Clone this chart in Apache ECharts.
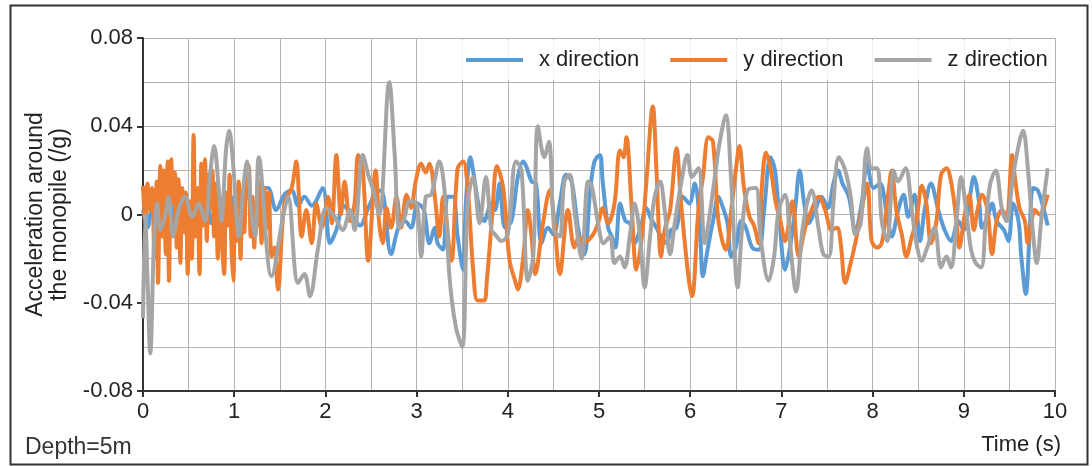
<!DOCTYPE html>
<html>
<head>
<meta charset="utf-8">
<script src="https://cdn.jsdelivr.net/npm/echarts@6/dist/echarts.min.js"></script>
<style>
html,body{margin:0;padding:0;background:#fff;}
#chart{width:1092px;height:466px;}
</style>
</head>
<body>
<div id="chart"></div>
<script>
// ---- data (time in s, acceleration in g) ----
const seriesNames = ['x direction', 'y direction', 'z direction'];
const xTicks = [0,1,2,3,4,5,6,7,8,9,10];
const yTicks = [-0.08,-0.04,0,0.04,0.08];

const xT = [0,0.05,0.1,0.15,0.2,0.25,0.3,0.35,0.4,0.45,0.5,0.55,0.6,0.65,0.7,0.75,0.8,0.85,0.9,0.95,1.0,1.05,1.1,1.15,1.2,1.25,1.3,
 1.37,1.46,1.55,1.63,1.7,1.77,1.85,1.97,2.05,2.12,2.2,2.3,2.38,2.47,2.54,
 2.61,2.72,2.8,2.87,2.94,3.01,3.08,3.14,3.2,3.23,3.29,3.34,3.4,3.45,3.51,3.54,3.59,3.63,3.69,3.74,3.82,
 3.86,3.91,3.97,4.04,4.11,4.17,4.21,4.26,4.31,4.37,4.44,4.5,4.57,4.64,4.7,4.77,4.84,4.9,4.95,5.01,5.04,5.1,
 5.14,5.18,5.23,5.29,5.34,5.39,5.45,5.52,5.57,5.63,5.68,5.74,5.79,5.85,5.92,5.99,6.05,6.1,6.14,6.19,6.25,6.31,6.36,6.41,
 6.45,6.5,6.56,6.61,6.68,6.75,6.81,6.88,6.93,6.98,7.04,7.09,7.15,7.2,7.25,7.3,7.37,7.44,7.51,7.57,7.62,
 7.67,7.74,7.81,7.88,7.94,8.01,8.08,8.16,8.21,8.28,8.34,8.39,8.46,8.52,8.57,8.64,8.72,8.79,8.86,8.94,
 9.0,9.06,9.11,9.17,9.2,9.26,9.31,9.36,9.44,9.49,9.54,9.6,9.63,9.68,9.72,9.76,9.81,9.86,9.92];
const xV = [0.002,-0.006,0.004,-0.008,0.005,-0.004,0.006,-0.006,0.003,-0.005,0.004,-0.007,0.005,-0.003,0.006,-0.004,0.004,-0.006,0.005,0.001,0.008,-0.004,0.003,0.010,0.002,0.006,0.012,
 0.012,0.002,0.009,0.011,0.004,0.008,0.004,0.012,-0.013,-0.007,0.004,-0.001,-0.005,0.003,0.009,
 0.011,-0.018,-0.006,-0.003,-0.006,0.005,0.002,-0.013,-0.006,-0.013,-0.016,0.008,0.008,-0.010,-0.025,0.005,0.026,0.017,0.002,-0.003,0.005,
 0.002,0.014,-0.006,-0.003,0.017,0.024,0.021,0.015,0.014,-0.013,-0.006,-0.009,0.005,0.018,0.015,-0.006,-0.018,0.009,0.024,0.027,0.015,-0.006,
 -0.010,-0.015,0.005,-0.003,-0.004,-0.013,-0.007,0.003,-0.002,-0.006,-0.010,-0.013,-0.007,-0.006,0.008,0.005,0.014,-0.001,-0.028,-0.016,-0.003,0.008,0.003,-0.004,
 -0.019,-0.015,-0.003,-0.006,-0.015,-0.016,0.002,0.026,0.020,-0.003,-0.025,-0.016,0.002,0.020,0.005,-0.004,0.002,0.008,0.003,0.014,0.020,
 0.014,0.008,-0.007,0.005,0.023,0.012,0.014,-0.001,-0.010,0.002,0.009,-0.001,0.009,-0.012,0.002,0.014,0.002,-0.007,-0.012,-0.003,
 -0.007,0.006,0.017,0.005,-0.006,-0.001,0.005,-0.003,-0.007,-0.012,0.005,-0.003,-0.019,-0.036,-0.010,0.012,0.011,0.005,-0.005];

const yT = [0,0.025,0.05,0.075,0.1,0.125,0.15,0.165,0.19,0.21,0.23,0.25,0.27,0.285,0.31,0.33,0.35,0.37,0.39,0.41,0.43,0.45,0.47,0.49,0.51,0.535,0.555,0.575,0.595,0.62,0.64,0.66,0.68,0.7,0.72,0.74,0.76,0.78,0.8,0.82,0.84,0.865,0.89,0.91,0.93,0.95,0.97,0.99,1.01,1.03,1.05,1.07,1.09,1.11,1.13,1.16,1.18,1.2,1.22,1.24,1.26,1.28,1.3,1.33,1.36,1.38,1.41,1.44,1.48,
 1.55,1.63,1.68,1.74,1.79,1.85,1.9,1.96,2.03,2.07,2.12,2.17,2.21,2.27,2.32,2.36,2.41,2.47,2.55,2.59,2.63,2.67,2.72,2.78,2.83,2.89,2.94,2.99,3.05,3.1,3.14,3.2,3.25,3.29,3.38,3.45,3.51,3.56,3.62,3.67,3.74,3.77,3.83,3.88,3.95,
 4.02,4.08,4.11,4.17,4.22,4.26,4.3,4.39,4.46,4.51,4.57,4.66,4.73,4.78,4.82,4.92,4.99,5.04,5.1,5.17,5.23,5.27,5.3,5.36,5.41,5.47,5.52,5.59,5.63,5.68,5.72,5.78,5.85,5.9,5.98,6.02,6.09,6.14,6.2,6.25,6.31,6.39,
 6.45,6.5,6.54,6.59,6.65,6.7,6.75,6.79,6.83,6.88,6.94,6.99,7.04,7.12,7.19,7.26,7.33,7.41,7.48,7.55,7.61,7.65,7.7,7.76,7.81,7.88,7.94,7.99,8.05,8.1,8.16,8.21,8.26,8.32,8.37,8.43,8.48,8.54,8.59,8.64,8.7,8.75,8.81,8.86,8.92,8.95,
 9.01,9.06,9.11,9.15,9.2,9.26,9.31,9.36,9.42,9.47,9.53,9.56,9.61,9.67,9.7,9.74,9.78,9.83,9.92];
const yV = [0.013,-0.005,0.014,0.002,0.012,-0.020,0.015,-0.031,0.022,-0.010,0.020,-0.018,0.024,-0.030,0.025,0.005,0.019,-0.015,0.016,-0.022,0.012,-0.008,0.010,-0.027,0.006,-0.020,0.036,-0.010,0.012,-0.027,0.023,-0.005,0.025,-0.012,0.018,0.003,0.020,-0.010,0.014,-0.020,0.008,-0.012,-0.027,0.010,-0.005,0.018,-0.015,-0.030,0.005,-0.012,0.015,-0.020,0.006,-0.008,0.012,0.022,-0.010,0.008,-0.015,0.005,-0.005,0.015,-0.013,0.012,-0.006,0.010,-0.019,-0.015,-0.034,
 0.005,0.012,0.024,-0.010,0.002,-0.013,0.005,-0.006,0.008,-0.004,0.027,0.000,0.015,-0.003,0.005,0.027,0.020,-0.021,0.020,-0.004,-0.013,0.003,-0.006,0.008,-0.006,0.009,0.003,0.015,0.023,0.019,0.023,0.008,-0.010,0.008,-0.021,0.021,0.024,0.012,-0.025,-0.039,-0.039,-0.030,0.000,0.022,0.012,
 -0.021,-0.030,-0.034,-0.019,0.002,-0.010,-0.027,-0.003,0.011,-0.003,-0.027,0.002,-0.015,-0.010,-0.013,-0.010,-0.004,0.003,-0.004,0.005,0.029,0.026,0.035,0.002,-0.025,-0.010,0.015,0.049,0.020,-0.019,-0.007,0.002,0.030,0.005,-0.028,-0.037,0.002,0.017,0.035,0.033,-0.003,-0.016,
 0.002,0.020,0.031,0.012,-0.001,-0.005,-0.013,0.015,0.028,0.021,0.005,-0.003,-0.012,0.006,-0.019,-0.006,0.002,0.008,0.002,-0.007,-0.006,-0.013,-0.031,-0.022,-0.013,0.002,0.014,-0.012,-0.015,-0.013,0.005,0.020,0.002,-0.009,-0.019,-0.010,-0.003,0.013,0.005,-0.013,-0.003,0.018,0.021,0.015,-0.003,-0.015,
 0.000,0.009,-0.007,0.002,0.009,0.002,-0.018,-0.003,0.002,-0.001,0.027,0.017,0.003,-0.003,-0.013,-0.004,0.002,0.000,0.009];

const zT = [0,0.025,0.05,0.08,0.12,0.155,0.19,0.24,0.28,0.33,0.39,0.46,0.54,0.61,0.68,0.74,0.78,0.83,0.86,0.91,0.945,0.99,1.05,1.1,1.14,1.19,1.23,1.27,
 1.41,1.54,1.59,1.7,1.77,1.83,1.92,2.01,2.1,2.19,2.27,2.32,2.41,2.47,2.53,2.59,2.7,2.76,2.81,2.87,2.92,3.0,3.05,3.1,3.16,3.25,3.31,3.36,3.43,3.5,3.56,3.62,3.69,3.76,3.82,
 3.86,3.93,4.0,4.09,4.15,4.22,4.28,4.33,4.4,4.45,4.51,4.57,4.62,4.68,4.73,4.81,4.88,4.92,4.99,5.05,5.12,5.17,5.23,5.28,5.34,5.39,5.45,5.5,5.56,5.61,5.67,5.72,5.78,5.83,5.9,5.97,6.02,6.09,6.16,6.21,6.27,6.32,6.39,
 6.45,6.52,6.57,6.63,6.72,6.77,6.86,6.92,6.97,7.04,7.1,7.16,7.23,7.28,7.33,7.41,7.46,7.52,7.57,7.63,7.7,7.76,7.81,7.87,7.94,7.99,8.05,8.1,8.16,8.23,8.28,8.36,8.43,8.48,8.54,8.59,8.68,8.75,8.81,8.86,8.92,8.97,
 9.03,9.08,9.13,9.19,9.24,9.29,9.35,9.42,9.47,9.53,9.58,9.65,9.7,9.76,9.8,9.85,9.92];
const zV = [-0.047,0.000,-0.030,-0.063,-0.013,0.005,-0.007,-0.001,0.008,-0.010,0.002,0.008,-0.001,0.005,-0.003,0.020,0.031,0.012,-0.003,0.029,0.038,0.022,-0.010,0.012,0.024,0.000,-0.010,0.026,
 -0.028,0.000,0.008,-0.031,-0.027,-0.037,-0.015,0.003,-0.001,-0.007,0.002,-0.007,0.027,0.018,0.010,0.000,0.060,0.027,-0.006,-0.001,0.006,0.005,-0.019,0.008,0.009,0.024,0.009,-0.028,-0.051,-0.060,0.005,0.017,-0.004,0.017,-0.007,
 -0.009,-0.012,-0.009,0.024,0.020,-0.030,-0.018,0.040,0.026,0.033,-0.007,-0.010,0.015,0.018,0.002,-0.020,0.015,0.013,-0.004,-0.013,-0.010,-0.022,-0.019,-0.024,-0.009,0.005,-0.010,-0.033,-0.010,0.008,0.015,0.002,-0.018,-0.004,0.014,0.027,0.017,0.021,-0.013,-0.001,0.017,0.032,0.045,
 0.015,-0.033,-0.006,0.011,0.012,-0.010,-0.030,-0.019,0.002,0.009,-0.015,-0.035,-0.007,0.005,0.011,-0.007,-0.018,-0.019,0.005,0.026,0.020,0.008,-0.009,-0.004,0.030,0.021,0.021,-0.003,-0.012,0.020,0.015,0.021,0.002,-0.013,-0.021,-0.016,-0.006,-0.024,-0.019,-0.024,-0.003,0.017,
 0.000,-0.016,-0.022,-0.024,-0.004,0.014,0.020,0.002,-0.003,0.014,0.027,0.038,0.022,-0.009,-0.022,-0.002,0.021];

const colors = ['#5B9BD5', '#ED7D31', '#A5A5A5'];
const pairs = (ts, vs) => ts.map((t, i) => [t, vs[i]]);

const FONT = 'Liberation Sans, Arial, sans-serif';
const chart = echarts.init(document.getElementById('chart'), null, {renderer: 'canvas'});

const gridLine = {show: true, lineStyle: {color: '#b4b4b4', width: 1}};

chart.setOption({
  animation: false,
  backgroundColor: '#fff',
  color: colors,
  textStyle: {fontFamily: FONT},
  grid: {left: 143, right: 37, top: 38, bottom: 75, containLabel: false, outerBoundsMode: 'none'},
  legend: {
    data: seriesNames,
    left: 462, top: 40,
    icon: 'rect',
    itemWidth: 57, itemHeight: 4, itemGap: 31,
    backgroundColor: 'rgba(255,255,255,0.8)',
    padding: [9, 4],
    textStyle: {fontSize: 22, color: '#222', fontFamily: FONT, padding: [0, 0, 0, 11]}
  },
  xAxis: {
    type: 'value', min: 0, max: 10, interval: 1,
    axisLine: {show: true, onZero: false, lineStyle: {color: '#333', width: 2}},
    axisTick: {show: true, inside: false, length: 6, lineStyle: {color: '#333', width: 2}},
    axisLabel: {fontSize: 22, color: '#222', margin: 10, fontFamily: FONT,
      customValues: xTicks},
    splitLine: gridLine,
    minorTick: {show: false, splitNumber: 2},
    minorSplitLine: gridLine
  },
  yAxis: {
    type: 'value', min: -0.08, max: 0.08, interval: 0.04,
    name: 'Acceleration around\nthe monopile (/g)',
    nameLocation: 'middle', nameRotate: 90, nameGap: 70,
    nameTextStyle: {fontSize: 23, color: '#222', lineHeight: 24, fontFamily: FONT},
    axisLine: {show: true, onZero: false, lineStyle: {color: '#333', width: 2}},
    axisTick: {show: true, inside: false, length: 6, lineStyle: {color: '#333', width: 2}},
    axisLabel: {fontSize: 22, color: '#222', margin: 10, fontFamily: FONT,
      formatter: v => String(yTicks.find(t => Math.abs(t - v) < 1e-9) ?? v)},
    splitLine: gridLine,
    minorTick: {show: false, splitNumber: 2},
    minorSplitLine: gridLine
  },
  series: [
    {name: seriesNames[0], type: 'line', data: pairs(xT, xV), symbol: 'none', smooth: 0.35,
      lineStyle: {width: 4, color: colors[0]}},
    {name: seriesNames[1], type: 'line', data: pairs(yT, yV), symbol: 'none', smooth: 0.35,
      lineStyle: {width: 4, color: colors[1]}},
    {name: seriesNames[2], type: 'line', data: pairs(zT, zV), symbol: 'none', smooth: 0.35,
      lineStyle: {width: 4, color: colors[2]}}
  ],
  graphic: [
    {type: 'rect', left: 8, top: 3, shape: {width: 1077, height: 459},
      style: {fill: 'none', stroke: '#333', lineWidth: 2}, z: 100},
    {type: 'text', left: 25, top: 436, style: {text: 'Depth=5m', fontSize: 23, fill: '#333', font: '23px ' + FONT}},
    {type: 'text', right: 31, top: 434, style: {text: 'Time (s)', fontSize: 22, fill: '#222', font: '22px ' + FONT}}
  ]
});
</script>
</body>
</html>
